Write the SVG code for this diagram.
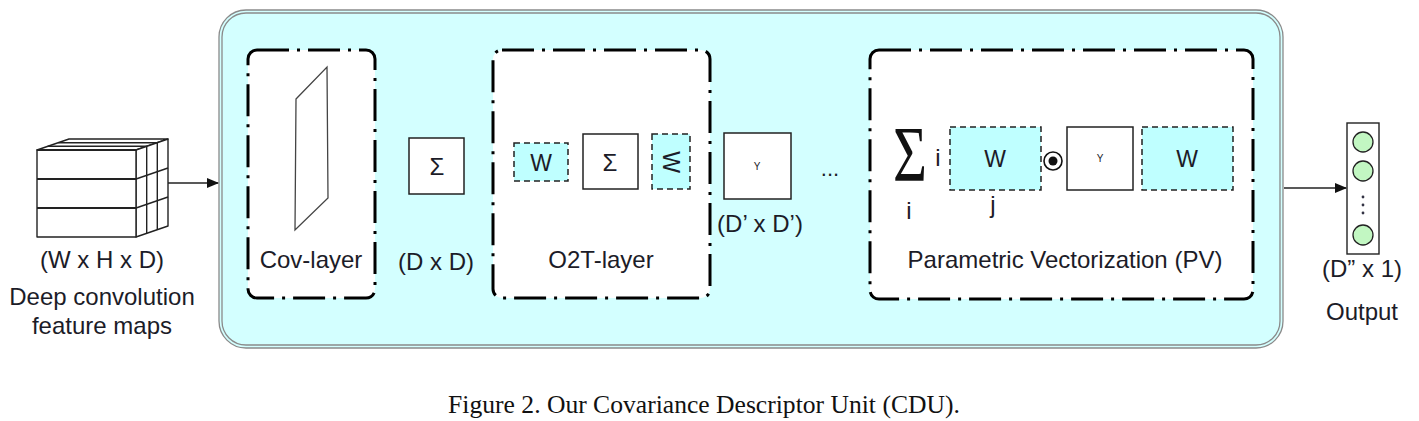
<svg xmlns="http://www.w3.org/2000/svg" width="1419" height="421" viewBox="0 0 1419 421">
<style>
  .lbl { font-family: "Liberation Sans", Arial, sans-serif; font-size: 24px; fill: #1c1c28; text-anchor: middle; }
  .mid { font-family: "Liberation Sans", Arial, sans-serif; fill: #1c1c28; text-anchor: middle; dominant-baseline: central; }
  .dd { fill: #ffffff; stroke: #000; stroke-width: 3; stroke-dasharray: 32 8 3 8; }
  .wbox { fill: #bfffff; stroke: #222; stroke-width: 1.5; stroke-dasharray: 6 4; }
  .sbox { fill: #ffffff; stroke: #222; stroke-width: 1.5; }
  .cube { fill: #ffffff; stroke: #222; stroke-width: 1.4; stroke-linejoin: round; }
  .conn { stroke: #222; stroke-width: 1.4; fill: none; }
  .cap { font-family: "Liberation Serif", "Times New Roman", serif; font-size: 25.6px; fill: #111; text-anchor: middle; }
</style>
<defs>
  <marker id="arr" markerWidth="12" markerHeight="10" refX="11" refY="5" orient="auto" markerUnits="userSpaceOnUse">
    <path d="M0,0 L12,5 L0,10 z" fill="#111"/>
  </marker>
</defs>
<rect width="1419" height="421" fill="#ffffff"/>

<g id="cdu-unit">
  <rect x="219" y="10" width="1064" height="338" rx="27" fill="#d3ffff" stroke="#8a8a8a" stroke-width="1.3"/>
  <rect x="222" y="13" width="1058" height="332" rx="24" fill="none" stroke="#8a8a8a" stroke-width="1.3"/>
</g>

<g id="feature-maps">
  <polygon class="cube" points="37,150 136,150 168,139 69,139"/>
  <polygon class="cube" points="136,150 168,139 168,226 136,237"/>
  <line class="cube" x1="47.7" y1="146.3" x2="146.7" y2="146.3"/>
  <line class="cube" x1="58.3" y1="142.7" x2="157.3" y2="142.7"/>
  <line class="cube" x1="146.7" y1="146.3" x2="146.7" y2="233.3"/>
  <line class="cube" x1="157.3" y1="142.7" x2="157.3" y2="229.7"/>
  <line class="cube" x1="136" y1="179" x2="168" y2="168" stroke-width="2"/>
  <line class="cube" x1="136" y1="208" x2="168" y2="197" stroke-width="2"/>
  <rect class="cube" x="37" y="150" width="99" height="87"/>
  <line x1="37" y1="150" x2="136" y2="150" stroke="#222" stroke-width="2.2"/>
  <line x1="37" y1="179" x2="136" y2="179" stroke="#222" stroke-width="2.2"/>
  <line x1="37" y1="208" x2="136" y2="208" stroke="#222" stroke-width="2.2"/>
  <text class="lbl" x="102" y="268">(W x H x D)</text>
  <text class="lbl" x="102" y="305">Deep convolution</text>
  <text class="lbl" x="102" y="334">feature maps</text>
</g>

<g id="cov-layer">
  <rect class="dd" x="248" y="50" width="127" height="248" rx="9"/>
  <polygon points="296,99 327,67 328,198 295,230" fill="#ffffff" stroke="#444" stroke-width="1.3"/>
  <text class="lbl" x="311" y="268">Cov-layer</text>
</g>

<g id="cov-matrix">
  <rect class="sbox" x="409" y="138" width="55" height="56"/>
  <text class="mid" x="437" y="166" font-size="24">Σ</text>
  <text class="lbl" x="436" y="270">(D x D)</text>
</g>

<g id="o2t-layer">
  <rect class="dd" x="493" y="50" width="217" height="248" rx="9"/>
  <rect class="wbox" x="514" y="143" width="54" height="38"/>
  <text class="mid" x="541" y="163" font-size="23">W</text>
  <rect class="sbox" x="583" y="134" width="55" height="55"/>
  <text class="mid" x="610" y="162" font-size="24">Σ</text>
  <rect class="wbox" x="652" y="134" width="38" height="55"/>
  <text class="mid" x="671" y="162" font-size="23" transform="rotate(90 671 162)">W</text>
  <text class="lbl" x="601" y="268">O2T-layer</text>
</g>

<g id="y-matrix">
  <rect class="sbox" x="724" y="133" width="67" height="66"/>
  <text class="mid" x="757" y="166" font-size="10" fill="#6a5060">Y</text>
  <text class="lbl" x="760" y="232">(D’ x D’)</text>
  <text class="mid" x="830" y="168" font-size="22">...</text>
</g>

<g id="pv-layer">
  <rect class="dd" x="870" y="50" width="383" height="249" rx="9"/>
  <text x="0" y="0" font-family="Liberation Serif, 'Times New Roman', serif" font-size="58" textLength="34" lengthAdjust="spacingAndGlyphs" fill="#111" transform="translate(893 180) scale(1 1.35)">Σ</text>
  <text class="lbl" x="938" y="166" font-size="22">i</text>
  <text class="lbl" x="909" y="219" font-size="22">i</text>
  <rect class="wbox" x="950" y="127" width="91" height="63"/>
  <text class="mid" x="995" y="159" font-size="23">W</text>
  <text class="lbl" x="993" y="213" font-size="22">j</text>
  <circle cx="1053" cy="161" r="9" fill="#ffffff" stroke="#111" stroke-width="1.6"/>
  <circle cx="1053" cy="161" r="4.5" fill="#111"/>
  <rect class="sbox" x="1067" y="127" width="66" height="63"/>
  <text class="mid" x="1100" y="158" font-size="10" fill="#6a5060">Y</text>
  <rect class="wbox" x="1142" y="127" width="91" height="63"/>
  <text class="mid" x="1187" y="159" font-size="23">W</text>
  <text class="lbl" x="1065" y="268">Parametric Vectorization (PV)</text>
</g>

<g id="output">
  <rect x="1347" y="123" width="32" height="131" fill="#ffffff" stroke="#222" stroke-width="1.4"/>
  <circle cx="1363" cy="142" r="10" fill="#c2f7c2" stroke="#222" stroke-width="1.3"/>
  <circle cx="1363" cy="171" r="10" fill="#c2f7c2" stroke="#222" stroke-width="1.3"/>
  <circle cx="1363" cy="235" r="10" fill="#c2f7c2" stroke="#222" stroke-width="1.3"/>
  <circle cx="1363" cy="197" r="1.4" fill="#334"/>
  <circle cx="1363" cy="205" r="1.4" fill="#334"/>
  <circle cx="1363" cy="213" r="1.4" fill="#334"/>
  <text class="lbl" x="1362" y="277">(D” x 1)</text>
  <text class="lbl" x="1362" y="320">Output</text>
</g>

<g id="connectors">
  <line class="conn" x1="168" y1="183" x2="218" y2="183" marker-end="url(#arr)"/>
  <line class="conn" x1="1284" y1="188" x2="1346" y2="188" marker-end="url(#arr)"/>
</g>

<text class="cap" x="704" y="413">Figure 2. Our Covariance Descriptor Unit (CDU).</text>
</svg>
